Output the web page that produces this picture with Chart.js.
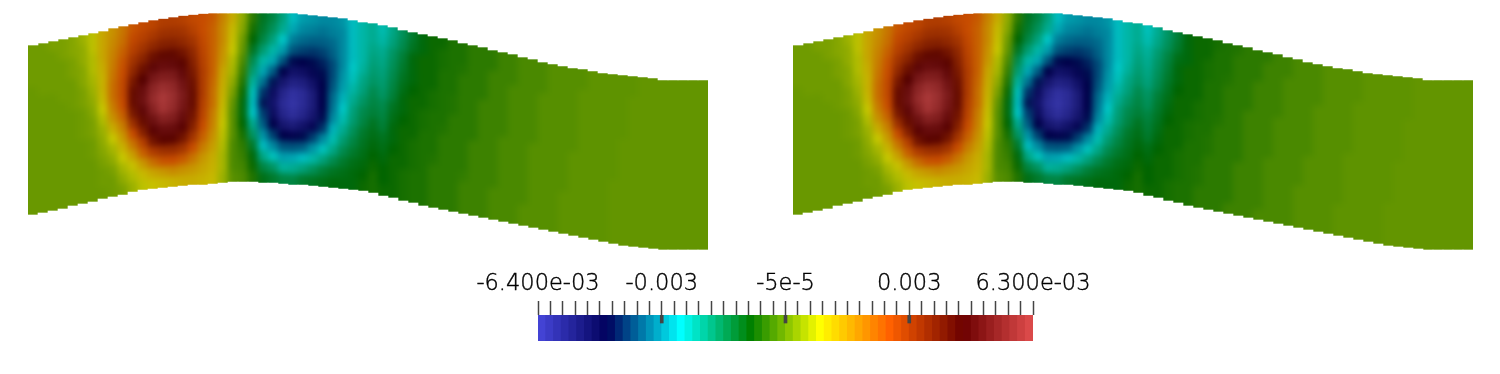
<!DOCTYPE html>
<html>
<head>
<meta charset="utf-8">
<title>Field</title>
<script src="https://cdn.jsdelivr.net/npm/chart.js@4/dist/chart.umd.min.js"></script>
<style>
  html, body { margin: 0; background: #fff; }
  body { position: relative; width: 1500px; height: 374px; overflow: hidden; }
  canvas { position: absolute; }
  .panel { position: absolute; top: -20px; width: 680px; height: 300px; overflow: hidden; }
  .panel .field { left: -20px; top: 0; filter: blur(3px); }
  .panel .walls { left: 0; top: 0; }
</style>
</head>
<body>
<div class="panel" style="left:28px">
  <canvas class="field" id="leftField" width="720" height="300"></canvas>
  <canvas class="walls" id="leftWalls" width="680" height="300"></canvas>
</div>
<div class="panel" style="left:793px">
  <canvas class="field" id="rightField" width="720" height="300"></canvas>
  <canvas class="walls" id="rightWalls" width="680" height="300"></canvas>
</div>
<canvas id="colorBar" width="1500" height="90" style="left:0;top:262px"></canvas>
<script>
// image rows of the upper and lower wall, one per column
const topEdge = [45,43,41,39,37,35,33,31,28,26,24,22,20,18.5,17,15.5,14.5,13.5,13,13,13,13,13,13,13,13,13,14,15,16,17,18,20,22,23,
  25,27,30,32,34,36,38,40,43,45,47,50,52,54,57,59,62,64,66,68,69,71,73,74,75,76,77,78,80,80,80,80,80];
const bottomEdge = [215,213,211,209,206,204,202,199,197,195,192,190,189,188,187,186,185,185,184,183,182,182,182,183,183,184,185,185,186,187,188,189,190,191,193,
  196,198,201,203,206,208,210,212,214,216,218,220,222,224,226,228,230,232,234,236,238,240,242,244,246,247,248,249,250,250,250,250,250];

// field in units of 1e-4, each column listed from upper wall to lower wall
const fieldCore = [
  [1,1,1,1,0.5,0.5,0.5,0.5,0.5,0.5,0.5,0.5,0.5,0.5,0.5,0.5],
  [1,1,1,1,1,0.5,0.5,0.5,0.5,0.5,0.5,0.5,0.5,0.5,0.5,0.5],
  [2,1,1,1,1,0.5,0.5,0.5,0.5,0.5,0.5,0.5,0.5,0.5,0.5,0.5],
  [2,2,1,1,1,1,0.5,0.5,0.5,0.5,0.5,0.5,0.5,0.5,0.5,0.5],
  [3,3,2,2,1,1,1,0.5,0.5,0.5,0.5,0.5,0.5,0.5,0.5,0.5],
  [5,4,4,3,3,2,2,1,1,1,0.5,0.5,0.5,0.5,0.5,0.5],
  [8,8,7,7,6,5,4,3,2,2,1,1,0.5,0.5,0.5,0.5],
  [14,14,14,13,12,12,11,9,7,5,4,3,2,1,1,0.5],
  [17,18,19,20,21,22,22,20,17,13,9,6,4,2,1,1],
  [21,22,24,26,27,28,28,27,24,20,16,12,9,6,4,2],
  [26,28,30,33,36,40,43,43,40,34,27,21,15,10,7,5],
  [28,30,33,37,42,46,50,51,48,43,38,30,24,16,11,8],
  [29,32,36,42,48,53,57,59,56,51,47,41,31,22,14,10],
  [31,34,38,44,50,55,60,63,62,56,50,45,34,26,16,11],
  [31,34,38,44,49,54,58,60,59,55,50,45,35,27,18,12],
  [30,33,36,41,45,49,52,54,53,50,47,41,33,25,17,13],
  [28,30,33,36,38,40,42,43,43,41,38,33,27,21,16,13],
  [27,27,28,29,30,31,31,31,30,29,27,24,20,16,14,12],
  [25,24,24,24,24,24,23,22,22,20,19,17,15,13,12,11],
  [19,18,18,17,16,14,13,12,11,10,9,8,7,6,6,5],
  [13,11,10,9,7,6,4,2,0,-1,-1,-1,-2,-2,-2,-1],
  [4,3,1,0,-2,-4,-6,-8,-10,-10,-9,-7,-5,-4,-3,-2],
  [-5,-7,-9,-12,-16,-19,-23,-26,-28,-27,-22,-18,-13,-10,-8,-6],
  [-12,-13,-15,-19,-24,-30,-35,-41,-44,-40,-37,-32,-28,-21,-15,-11],
  [-15,-17,-20,-24,-30,-37,-44,-50,-52,-50,-46,-40,-33,-26,-18,-13],
  [-20,-22,-27,-31,-38,-46,-53,-58,-60,-58,-53,-46,-38,-31,-23,-15],
  [-28,-30,-34,-38,-45,-52,-57,-62,-63,-61,-55,-47,-38,-30,-22,-15],
  [-31,-33,-36,-40,-46,-51,-56,-60,-60,-58,-52,-45,-37,-28,-20,-13],
  [-32,-34,-37,-41,-45,-48,-52,-55,-55,-53,-48,-40,-32,-24,-17,-12],
  [-33,-35,-37,-40,-43,-45,-46,-46,-46,-45,-41,-33,-26,-20,-14,-11],
  [-33,-34,-36,-37,-39,-39,-38,-36,-35,-33,-29,-25,-21,-16,-12,-10],
  [-32,-33,-33,-33,-33,-32,-31,-29,-27,-25,-22,-19,-16,-13,-11,-10],
  [-28,-28,-28,-28,-27,-26,-24,-22,-20,-19,-17,-15,-13,-11,-10,-10],
  [-24,-24,-24,-24,-23,-21,-20,-18,-16,-15,-13,-12,-11,-10,-9,-8],
  [-22,-22,-21,-20,-19,-18,-16,-15,-14,-12,-11,-10,-9,-8,-7,-7]
];
const tailLeft = [
  [-25,-24,-22,-21,-20,-19,-18,-16,-15,-14,-12,-11,-10,-9,-9,-8],
  [-21,-20,-18,-17,-16,-15,-14,-12,-11,-10,-10,-9,-8,-8,-8,-8],
  [-17,-16,-14,-13,-12,-11,-10,-10,-9,-8,-8,-8,-8,-7,-7,-7],
  [-13,-12,-10,-10,-10,-9,-8,-8,-8,-8,-7,-7,-7,-6.5,-6.5,-6.5],
  [-10,-10,-8,-8,-8,-8,-8,-7,-7,-6.5,-6.5,-6.5,-6.5,-6.5,-6.5,-6.5],
  [-8,-8,-8,-8,-8,-7,-7,-6.5,-6.5,-6.5,-6.5,-6,-5,-5,-5,-5],
  [-8,-7,-7,-6.5,-6.5,-6.5,-6.5,-6.5,-6,-5,-5,-5,-5,-5,-5,-5],
  [-6.5,-6.5,-6.5,-6.5,-6.5,-6,-6,-5,-5,-5,-5,-5,-5,-5,-5,-5],
  [-6.5,-6.5,-6,-5,-5,-5,-5,-5,-5,-5,-5,-5,-4.5,-3.5,-3.5,-3.5],
  [-5,-5,-5,-5,-5,-5,-5,-5,-5,-3.5,-3.5,-3.5,-3.5,-3.5,-3.5,-3.5],
  [-5,-5,-5,-5,-5,-3.5,-3.5,-3.5,-3.5,-3.5,-3.5,-3.5,-3.5,-3.5,-3.5,-3.5],
  [-5,-5,-3.5,-3.5,-3.5,-3.5,-3.5,-3.5,-3.5,-3.5,-3.5,-3.5,-3.5,-2.3,-2.3,-2.3],
  [-3.5,-3.5,-3.5,-3.5,-3.5,-3.5,-3.5,-3.5,-2.3,-2.3,-2.3,-2.3,-2.3,-2.3,-2.3,-2.3],
  [-3.5,-3.5,-3.5,-2.3,-2.3,-2.3,-2.3,-2.3,-2.3,-2.3,-2.3,-2.3,-2.3,-2.3,-2.3,-2.3],
  [-2.3,-2.3,-2.3,-2.3,-2.3,-2.3,-2.3,-2.3,-2.3,-2.3,-2.3,-2.3,-2.3,-2.3,-1.2,-1.2],
  [-2.3,-2.3,-2.3,-2.3,-2.3,-2.3,-2.3,-2.3,-1.2,-1.2,-1.2,-1.2,-1.2,-1.2,-1.2,-1.2],
  [-2.3,-2.3,-2.3,-1.2,-1.2,-1.2,-1.2,-1.2,-1.2,-1.2,-1.2,-1.2,-1.2,-1.2,-1.2,-1.2],
  [-1.2,-1.2,-1.2,-1.2,-1.2,-1.2,-1.2,-1.2,-1.2,-1.2,-1.2,-1.2,-1.2,-1.2,-1.2,-1.2],
  [-1.2,-1.2,-1.2,-1.2,-1.2,-1.2,-1.2,-1.2,-1.2,-1.2,-1.2,-1.2,-0.5,-0.5,-0.5,-0.5],
  [-1.2,-1.2,-1.2,-1.2,-1.2,-1.2,-1.2,-1.2,-0.5,-0.5,-0.5,-0.5,-0.5,-0.5,-0.5,-0.5],
  [-1.2,-1.2,-0.5,-0.5,-0.5,-0.5,-0.5,-0.5,-0.5,-0.5,-0.5,-0.5,-0.5,-0.5,-0.5,-0.5],
  [-0.5,-0.5,-0.5,-0.5,-0.5,-0.5,-0.5,-0.5,-0.5,-0.5,-0.5,-0.5,-0.5,-0.5,-0.5,-0.5],
  [-0.5,-0.5,-0.5,-0.5,-0.5,-0.5,-0.5,-0.5,-0.5,-0.5,-0.5,-0.5,-0.5,-0.5,-0.5,-0.5],
  [-0.5,-0.5,-0.5,-0.5,-0.5,-0.5,-0.5,-0.5,-0.5,-0.5,0,0,0,0,0,0],
  [-0.5,-0.5,-0.5,-0.5,-0.5,-0.5,0,0,0,0,0,0,0,0,0,0],
  [-0.5,-0.5,0,0,0,0,0,0,0,0,0,0,0,0,0,0],
  [0,0,0,0,0,0,0,0,0,0,0,0,0,0,0,0],
  [0,0,0,0,0,0,0,0,0,0,0,0,0,0,0,0],
  [0,0,0,0,0,0,0,0,0,0,0,0,0,0,0,0],
  [0,0,0,0,0,0,0,0,0,0,0,0,0,0,0,0],
  [0,0,0,0,0,0,0,0,0,0,0,0,0,0,0,0],
  [0,0,0,0,0,0,0,0,0,0,0,0,0,0,0,0],
  [0,0,0,0,0,0,0,0,0,0,0,0,0,0,0,0]
];
const tailRight = [
  [-26,-25,-23,-22,-21,-20,-18,-17,-15,-14,-13,-11,-10,-9,-9,-8],
  [-22,-21,-19,-18,-17,-16,-14,-13,-12,-11,-10,-9,-8,-8,-8,-8],
  [-18,-17,-15,-14,-13,-12,-11,-10,-9,-8,-8,-8,-8,-8,-7,-7],
  [-14,-13,-11,-10,-10,-9,-8,-8,-8,-8,-8,-7,-7,-7,-6.5,-6.5],
  [-10,-10,-10,-8,-8,-8,-8,-8,-7,-7,-6.5,-6.5,-6.5,-6.5,-6.5,-6.5],
  [-8,-8,-8,-8,-8,-8,-7,-7,-6.5,-6.5,-6.5,-6.5,-6,-6,-5,-5],
  [-8,-8,-7,-7,-6.5,-6.5,-6.5,-6.5,-6.5,-6,-6,-5,-5,-5,-5,-5],
  [-7,-6.5,-6.5,-6.5,-6.5,-6.5,-6.5,-6,-5,-5,-5,-5,-5,-5,-5,-5],
  [-6.5,-6.5,-6.5,-6,-5,-5,-5,-5,-5,-5,-5,-5,-5,-5,-5,-3.5],
  [-6,-5,-5,-5,-5,-5,-5,-5,-5,-5,-5,-3.5,-3.5,-3.5,-3.5,-3.5],
  [-5,-5,-5,-5,-5,-5,-3.5,-3.5,-3.5,-3.5,-3.5,-3.5,-3.5,-3.5,-3.5,-3.5],
  [-5,-5,-5,-3.5,-3.5,-3.5,-3.5,-3.5,-3.5,-3.5,-3.5,-3.5,-3.5,-3.5,-3.5,-2.3],
  [-5,-3.5,-3.5,-3.5,-3.5,-3.5,-3.5,-3.5,-3.5,-3.5,-2.3,-2.3,-2.3,-2.3,-2.3,-2.3],
  [-3.5,-3.5,-3.5,-3.5,-3.5,-3.5,-2.3,-2.3,-2.3,-2.3,-2.3,-2.3,-2.3,-2.3,-2.3,-2.3],
  [-3.5,-3.5,-2.3,-2.3,-2.3,-2.3,-2.3,-2.3,-2.3,-2.3,-2.3,-2.3,-2.3,-2.3,-2.3,-2.3],
  [-2.3,-2.3,-2.3,-2.3,-2.3,-2.3,-2.3,-2.3,-2.3,-2.3,-2.3,-2.3,-1.2,-1.2,-1.2,-1.2],
  [-2.3,-2.3,-2.3,-2.3,-2.3,-2.3,-2.3,-2.3,-2.3,-1.2,-1.2,-1.2,-1.2,-1.2,-1.2,-1.2],
  [-2.3,-2.3,-2.3,-2.3,-1.2,-1.2,-1.2,-1.2,-1.2,-1.2,-1.2,-1.2,-1.2,-1.2,-1.2,-1.2],
  [-1.2,-1.2,-1.2,-1.2,-1.2,-1.2,-1.2,-1.2,-1.2,-1.2,-1.2,-1.2,-1.2,-1.2,-1.2,-1.2],
  [-1.2,-1.2,-1.2,-1.2,-1.2,-1.2,-1.2,-1.2,-1.2,-1.2,-1.2,-1.2,-1.2,-0.5,-0.5,-0.5],
  [-1.2,-1.2,-1.2,-1.2,-1.2,-1.2,-1.2,-1.2,-0.5,-0.5,-0.5,-0.5,-0.5,-0.5,-0.5,-0.5],
  [-1.2,-1.2,-1.2,-0.5,-0.5,-0.5,-0.5,-0.5,-0.5,-0.5,-0.5,-0.5,-0.5,-0.5,-0.5,-0.5],
  [-0.5,-0.5,-0.5,-0.5,-0.5,-0.5,-0.5,-0.5,-0.5,-0.5,-0.5,-0.5,-0.5,-0.5,-0.5,-0.5],
  [-0.5,-0.5,-0.5,-0.5,-0.5,-0.5,-0.5,-0.5,-0.5,-0.5,-0.5,-0.5,-0.5,-0.5,-0.5,-0.5],
  [-0.5,-0.5,-0.5,-0.5,-0.5,-0.5,-0.5,-0.5,-0.5,-0.5,-0.5,-0.5,0,0,0,0],
  [-0.5,-0.5,-0.5,-0.5,-0.5,-0.5,-0.5,-0.5,0,0,0,0,0,0,0,0],
  [-0.5,-0.5,-0.5,-0.5,0,0,0,0,0,0,0,0,0,0,0,0],
  [0,0,0,0,0,0,0,0,0,0,0,0,0,0,0,0],
  [0,0,0,0,0,0,0,0,0,0,0,0,0,0,0,0],
  [0,0,0,0,0,0,0,0,0,0,0,0,0,0,0,0],
  [0,0,0,0,0,0,0,0,0,0,0,0,0,0,0,0],
  [0,0,0,0,0,0,0,0,0,0,0,0,0,0,0,0],
  [0,0,0,0,0,0,0,0,0,0,0,0,0,0,0,0]
];

// colour bar
const bandValues = [-63,-61,-59,-57,-55,-53,-51,-49,-47,-45,-43,-41,-39,-37,-35,-33,-31,-29,-27,-25,-23,-21,-19,-17,-15,-13,-11,-9,-7,-5,-3,-1,
  1,3,5,7,9,11,13,15,17,19,21,23,25,27,29,31,33,35,37,39,41,43,45,47,49,51,53,55,57,59,61,63];
const majorValues = [-32,0,32];
const tickLabels = ['-6.400e-03','-0.003','-5e-5','0.003','6.300e-03'];

const colorStops = [
  [-64,71,71,219],[-46,0,0,92],[-27,0,255,255],[-9,0,128,0],
  [9,255,255,0],[27,255,97,0],[46,107,0,0],[64,224,77,77]
];
const panelShade = 0.78; // the surfaces are lit, so they sit darker than the bar

function colorOf(v, shade = 1) {
  let i = 0;
  while (i < colorStops.length - 2 && v > colorStops[i + 1][0]) i++;
  const a = colorStops[i], b = colorStops[i + 1];
  const t = Math.min(1, Math.max(0, (v - a[0]) / (b[0] - a[0])));
  const c = [1, 2, 3].map(n => Math.round((a[n] + (b[n] - a[n]) * t) * shade));
  return `rgb(${c[0]},${c[1]},${c[2]})`;
}

const panelOptions = {
  responsive: false,
  animation: false,
  devicePixelRatio: 1,
  plugins: { legend: { display: false }, tooltip: { enabled: false } },
  scales: {
    x: { display: false },
    y: { display: false, reverse: true, min: -20, max: 280 }
  }
};

function drawField(id, columns) {
  // two spare columns each side so the softening has colour to work with at the ends
  const pad = list => [list[0], list[0], ...list, list[list.length - 1], list[list.length - 1]];
  const cols = pad(columns), tops = pad(topEdge), bottoms = pad(bottomEdge);
  const rows = columns[0].length;
  const datasets = [];
  // dataset 0 is painted last, so the lowest row comes first and each cell runs down past the wall
  for (let r = rows - 1; r >= 0; r--) {
    datasets.push({
      data: cols.map((c, k) => [
        r === 0 ? tops[k] - 16 : tops[k] + r * (bottoms[k] - tops[k]) / rows,
        bottoms[k] + 16
      ]),
      backgroundColor: cols.map(c => colorOf(c[r], panelShade)),
      borderWidth: 0,
      grouped: false,
      barPercentage: 1,
      categoryPercentage: 1
    });
  }
  new Chart(document.getElementById(id), {
    type: 'bar',
    data: { labels: cols.map((c, k) => k), datasets },
    options: panelOptions
  });
}

// white above the upper wall and below the lower wall keeps the stepped outline sharp
function drawWalls(id) {
  const common = { backgroundColor: '#fff', borderWidth: 0, grouped: false, barPercentage: 1, categoryPercentage: 1 };
  new Chart(document.getElementById(id), {
    type: 'bar',
    data: {
      labels: topEdge.map((t, k) => k),
      datasets: [
        { data: topEdge.map(t => [-20, t]), ...common },
        { data: bottomEdge.map(b => [b, 280]), ...common }
      ]
    },
    options: panelOptions
  });
}

drawField('leftField', fieldCore.concat(tailLeft));
drawWalls('leftWalls');
drawField('rightField', fieldCore.concat(tailRight));
drawWalls('rightWalls');

new Chart(document.getElementById('colorBar'), {
  type: 'bar',
  data: {
    datasets: [
      {
        data: majorValues.map(v => ({ x: v, y: [0, 8] })),
        backgroundColor: '#444',
        barThickness: 3,
        grouped: false
      },
      {
        data: bandValues.map(v => ({ x: v, y: [0, 26] })),
        backgroundColor: bandValues.map(v => colorOf(v)),
        barThickness: 7.9,
        grouped: false
      }
    ]
  },
  options: {
    responsive: false,
    animation: false,
    devicePixelRatio: 1,
    layout: { padding: { left: 538, right: 467, bottom: 11 } },
    plugins: { legend: { display: false }, tooltip: { enabled: false } },
    scales: {
      x: {
        type: 'linear',
        position: 'top',
        offset: false,
        min: -64,
        max: 64,
        afterFit: scale => { scale.height = 53; },
        afterBuildTicks: scale => {
          const ticks = [];
          for (let k = 0; k <= 40; k++) ticks.push({ value: -64 + k * 3.2 });
          scale.ticks = ticks;
        },
        border: { display: false },
        grid: { offset: false, drawOnChartArea: false, tickLength: 14, tickColor: '#444', tickWidth: 1.5 },
        ticks: {
          autoSkip: false,
          maxRotation: 0,
          padding: 3,
          color: '#000',
          textStrokeColor: '#000',
          textStrokeWidth: 0.4,
          font: { family: '"DejaVu Sans"', size: 22.5, weight: 200 },
          callback: (v, i) => (i % 10 === 0 ? tickLabels[i / 10] : '')
        }
      },
      y: { display: false, reverse: true, min: 0, max: 26 }
    }
  }
});
</script>
</body>
</html>
